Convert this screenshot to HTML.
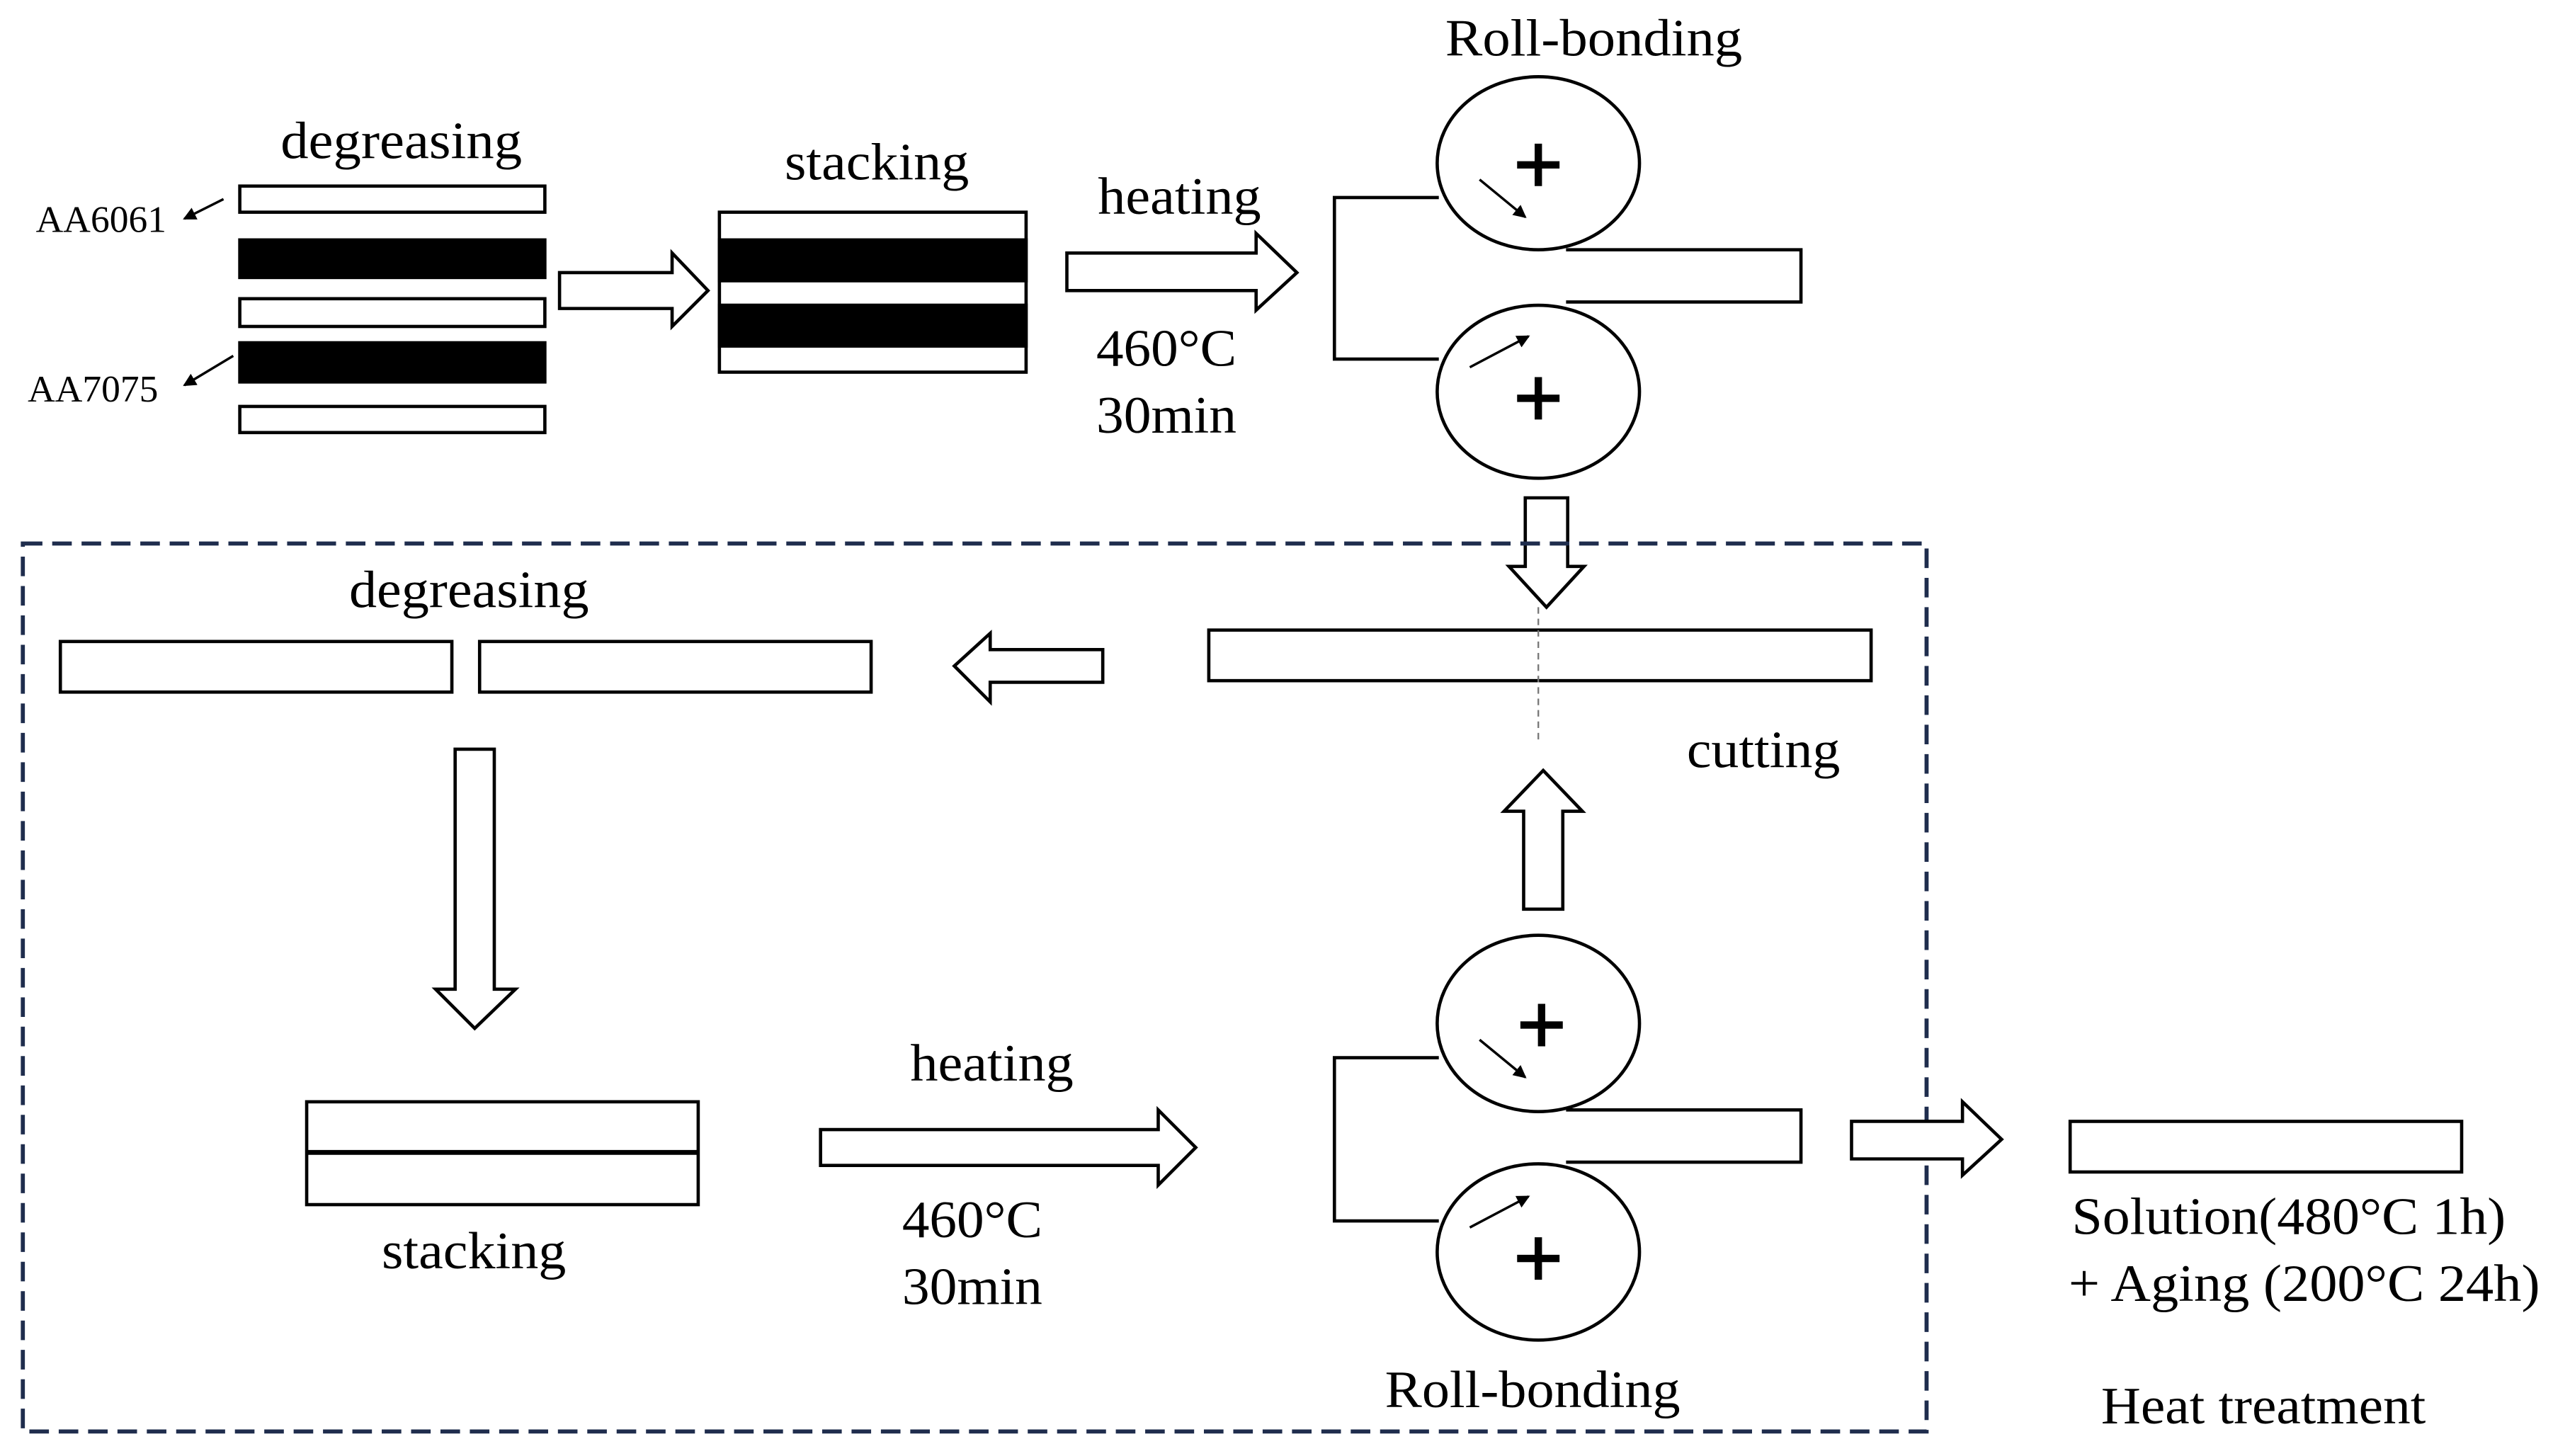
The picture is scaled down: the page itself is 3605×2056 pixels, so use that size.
<!DOCTYPE html>
<html><head><meta charset="utf-8"><style>
html,body{margin:0;padding:0;background:#fff;}
svg{display:block;}
text{font-family:"Liberation Serif",serif;fill:#000;}
</style></head><body>
<svg width="3605" height="2056" viewBox="0 0 1565 892" preserveAspectRatio="none" xmlns="http://www.w3.org/2000/svg">
<defs><marker id="ah" markerWidth="8" markerHeight="8" refX="7" refY="4" orient="auto" markerUnits="userSpaceOnUse"><path d="M0,0 L8,4 L0,8 Z" fill="#000"/></marker></defs>
<g stroke="#000" stroke-width="2" fill="none">
<rect x="147" y="114" width="187" height="16" fill="#fff"/>
<rect x="147" y="147" width="187" height="23" fill="#000"/>
<rect x="147" y="183" width="187" height="17" fill="#fff"/>
<rect x="147" y="210" width="187" height="24" fill="#000"/>
<rect x="147" y="249" width="187" height="16" fill="#fff"/>
<line x1="137" y1="122" x2="113" y2="134" stroke-width="1.5" marker-end="url(#ah)"/>
<line x1="143" y1="218" x2="113" y2="236" stroke-width="1.5" marker-end="url(#ah)"/>
<path d="M343,167 H412 V155 L434,178 L412,200 V189 H343 Z" fill="#fff"/>
<rect x="441" y="130" width="188" height="98" fill="#fff"/>
<rect x="441" y="147" width="188" height="25" fill="#000"/>
<rect x="441" y="187" width="188" height="25" fill="#000"/>
<path d="M654,155 H770 V143 L795,167 L770,190 V178 H654 Z" fill="#fff"/>
<ellipse cx="943" cy="100" rx="62" ry="53"/>
<ellipse cx="943" cy="240" rx="62" ry="53"/>
<line x1="907" y1="110" x2="935" y2="133" stroke-width="1.5" marker-end="url(#ah)"/>
<line x1="901" y1="225" x2="937" y2="206" stroke-width="1.5" marker-end="url(#ah)"/>
<path d="M882,121 H818 V220 H882"/>
<path d="M960,153 H1104 V185 H960"/>
<path d="M935,305 H961 V347 H971 L948,372 L925,347 H935 Z" fill="#fff"/>
<rect x="14" y="333" width="1167" height="544" stroke="#1f2d4d" stroke-width="2.5" stroke-dasharray="12,6"/>
<rect x="741" y="386" width="406" height="31" fill="#fff"/>
<line x1="943" y1="372" x2="943" y2="456" stroke="#777" stroke-width="1" stroke-dasharray="4,3"/>
<path d="M934,557 V497 H922 L946,472 L970,497 H958 V557 Z" fill="#fff"/>
<path d="M676,398 H607 V388 L585,408 L607,430 V418 H676 Z" fill="#fff"/>
<rect x="37" y="393" width="240" height="31"/>
<rect x="294" y="393" width="240" height="31"/>
<path d="M279,459 V606 H267 L291,630 L316,606 H303 V459 Z" fill="#fff"/>
<rect x="188" y="675" width="240" height="63"/>
<line x1="188" y1="706" x2="428" y2="706" stroke-width="3"/>
<path d="M503,692 H710 V680 L733,703 L710,726 V714 H503 Z" fill="#fff"/>
<ellipse cx="943" cy="627" rx="62" ry="54"/>
<ellipse cx="943" cy="767" rx="62" ry="54"/>
<line x1="907" y1="637" x2="935" y2="660" stroke-width="1.5" marker-end="url(#ah)"/>
<line x1="901" y1="752" x2="937" y2="733" stroke-width="1.5" marker-end="url(#ah)"/>
<path d="M882,648 H818 V748 H882"/>
<path d="M960,680 H1104 V712 H960"/>
<path d="M1135,687 H1203 V675 L1227,698 L1203,720 V710 H1135 Z" fill="#fff"/>
<rect x="1269" y="687" width="240" height="31"/>
</g>
<g stroke="#000" stroke-width="4.5">
<path d="M943,88 V114 M930,101 H956"/>
<path d="M943,231 V257 M930,244 H956"/>
<path d="M945,615 V641 M932,628 H958"/>
<path d="M943,758 V784 M930,771 H956"/>
</g>
<g font-size="32" lengthAdjust="spacingAndGlyphs">
<text x="172" y="97" textLength="148" lengthAdjust="spacingAndGlyphs">degreasing</text>
<text x="481" y="110" textLength="113" lengthAdjust="spacingAndGlyphs">stacking</text>
<text x="673" y="131" textLength="100" lengthAdjust="spacingAndGlyphs">heating</text>
<text x="672" y="224" textLength="86" lengthAdjust="spacingAndGlyphs">460°C</text>
<text x="672" y="265" textLength="86" lengthAdjust="spacingAndGlyphs">30min</text>
<text x="886" y="34" textLength="182" lengthAdjust="spacingAndGlyphs">Roll-bonding</text>
<text x="214" y="372" textLength="147" lengthAdjust="spacingAndGlyphs">degreasing</text>
<text x="1034" y="470" textLength="94" lengthAdjust="spacingAndGlyphs">cutting</text>
<text x="234" y="777" textLength="113" lengthAdjust="spacingAndGlyphs">stacking</text>
<text x="558" y="662" textLength="100" lengthAdjust="spacingAndGlyphs">heating</text>
<text x="553" y="758" textLength="86" lengthAdjust="spacingAndGlyphs">460°C</text>
<text x="553" y="799" textLength="86" lengthAdjust="spacingAndGlyphs">30min</text>
<text x="849" y="862" textLength="181" lengthAdjust="spacingAndGlyphs">Roll-bonding</text>
<text x="1270" y="756" textLength="266" lengthAdjust="spacingAndGlyphs">Solution(480°C 1h)</text>
<text x="1268" y="797" textLength="289" lengthAdjust="spacingAndGlyphs">+ Aging (200°C 24h)</text>
<text x="1288" y="872" textLength="199" lengthAdjust="spacingAndGlyphs">Heat treatment</text>
</g>
<g font-size="23">
<text x="22" y="142" textLength="80" lengthAdjust="spacingAndGlyphs">AA6061</text>
<text x="17" y="246" textLength="80" lengthAdjust="spacingAndGlyphs">AA7075</text>
</g>
</svg>
</body></html>
